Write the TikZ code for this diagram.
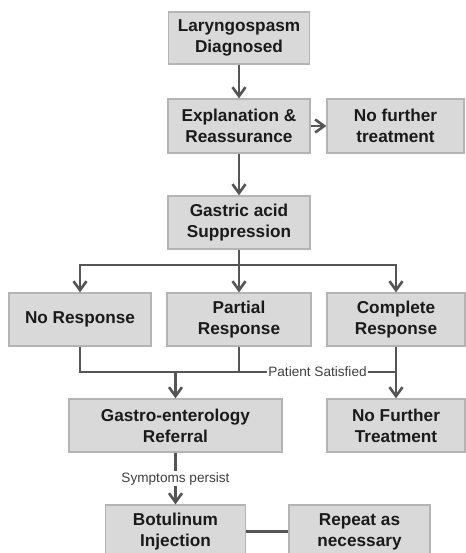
\documentclass[tikz,border=0pt]{standalone}
\usepackage{fontspec}
\setmainfont{Liberation Sans}
\usetikzlibrary{arrows.meta}
\definecolor{boxfill}{HTML}{D9D9D9}
\definecolor{boxline}{HTML}{B4B4B4}
\definecolor{conn}{HTML}{555555}
\definecolor{txt}{HTML}{1A1A1A}
\tikzset{
  box/.style={draw=boxline, line width=1.2pt, fill=boxfill, rectangle, align=center,
    inner sep=0pt, text=txt, font=\fontsize{17.2}{21}\selectfont\bfseries},
  conn/.style={draw=conn, line width=2.8pt},
  arr/.style={conn, -{Straight Barb[length=9pt,width=13pt,line width=2.6pt]}},
  lab/.style={fill=white, inner sep=1pt, text=black!75, font=\fontsize{13.6}{15}\selectfont}
}
\begin{document}
\begin{tikzpicture}[x=1pt,y=-1pt]
\useasboundingbox (0,0) rectangle (465,553);
\node[box, minimum width=141pt, minimum height=52pt] (lar) at (239,38) {Laryngospasm\\Diagnosed};
\node[box, minimum width=142pt, minimum height=54pt] (exp) at (239,126) {Explanation \&\\Reassurance};
\node[box, minimum width=137pt, minimum height=54pt] (nft) at (395.5,126) {No further\\treatment};
\node[box, minimum width=142pt, minimum height=53pt] (gas) at (239,222.5) {Gastric acid\\Suppression};
\node[box, minimum width=142pt, minimum height=53pt] (nor) at (80,319.5) {No Response};
\node[box, minimum width=144pt, minimum height=53pt] (par) at (239,319.5) {Partial\\Response};
\node[box, minimum width=138pt, minimum height=53pt] (com) at (396,319.5) {Complete\\Response};
\node[box, minimum width=213pt, minimum height=53pt] (gef) at (175.5,425.5) {Gastro-enterology\\Referral};
\node[box, minimum width=138pt, minimum height=53pt] (nFT) at (396,425.5) {No Further\\Treatment};
\node[box, minimum width=140pt, minimum height=53pt] (bot) at (175.5,531.5) {Botulinum\\Injection};
\node[box, minimum width=141pt, minimum height=53pt] (rep) at (359.5,531.5) {Repeat as\\necessary};

\coordinate (split) at (239,265);
\coordinate (join) at (239,372);
\coordinate (gj) at (175.5,372);

\draw[arr] (lar.south) -- (exp.north);
\draw[arr] (exp.east) -- (nft.west);
\draw[arr] (exp.south) -- (gas.north);
\draw[conn] (gas.south) -- (split);
\draw[arr] (split) -| (nor.north);
\draw[arr] (split) -| (com.north);
\draw[arr] (split) -- (par.north);

\draw[conn] (nor.south) |- (join);
\draw[conn] (par.south) -- (join);
\draw[conn] (join) -- node[lab, pos=0.5] (ps) {Patient Satisfied} (join -| com.south);
\draw[arr] (com.south) -- (nFT.north);
\draw[arr] (gj) -- (gef.north);

\draw[arr] (gef.south) -- node[lab, pos=0.5] (sp) {Symptoms persist} (bot.north);
\draw[conn] (bot.east) -- (rep.west);
\end{tikzpicture}
\end{document}
